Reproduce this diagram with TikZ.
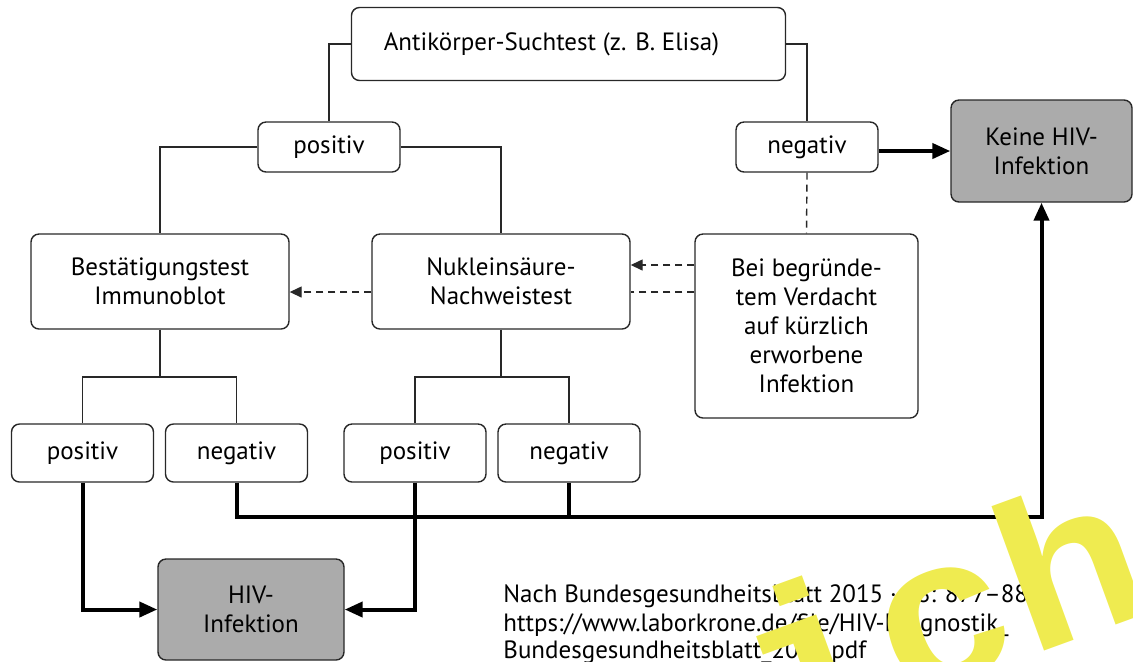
\documentclass[tikz,border=0pt]{standalone}
\usepackage{fontspec}
\setmainfont{PT Sans}
\newfontfamily\wmfont{Liberation Mono}
\usetikzlibrary{arrows.meta}
\definecolor{boxgray}{RGB}{171,171,171}
\definecolor{wmyellow}{RGB}{239,235,80}
\definecolor{linec}{RGB}{40,40,40}
\begin{document}
\begin{tikzpicture}[x=0.5pt,y=-0.5pt,
  every node/.style={font=\fontsize{12.5}{14.5}\selectfont},
  box/.style={draw=linec, line width=0.7pt, rounded corners=4pt, fill=white, align=center, inner sep=0pt},
  graybox/.style={box, fill=boxgray},
  small/.style={minimum width=71pt, minimum height=29pt},
  thin/.style={draw=linec, line width=0.7pt},
  thickline/.style={draw=black, line width=2pt},
  thickarrow/.style={thickline, -{Triangle[length=9pt,width=7.5pt]}},
  dashline/.style={thin, dash pattern=on 3.5pt off 2.5pt},
  dasharrow/.style={dashline, -{Triangle[length=6pt,width=5.5pt]}},
  foot/.style={anchor=base west, inner sep=0pt},
  watermark/.style={text=wmyellow, inner sep=0pt, anchor=base, rotate=20, xscale=1.08, font=\wmfont\bfseries\fontsize{106}{106}\selectfont}
]
\useasboundingbox (0,0) rectangle (1133,661);

% nodes
\node[box, minimum width=217pt, minimum height=36.5pt] (top) at (568.5,44) {Antikörper-Suchtest (z. B. Elisa)\hspace{17pt}};
\node[box, minimum width=71pt, minimum height=25pt] (pos1) at (329,147) {positiv};
\node[box, minimum width=71pt, minimum height=25pt] (neg1) at (807,147) {negativ};
\node[graybox, minimum width=90.5pt, minimum height=51pt] (keine) at (1041.5,151) {Keine HIV-\\Infektion};
\node[box, minimum width=111.5pt, minimum height=92pt] (bei) at (806.5,326) {Bei begründe-\\tem Verdacht\\auf kürzlich\\erworbene\\Infektion};
\node[box, minimum width=129pt, minimum height=47.5pt] (nuk) at (501,281.5) {Nukleinsäure-\\Nachweistest};
\node[box, minimum width=129pt, minimum height=47.5pt] (best) at (160,281.5) {Bestätigungstest\\Immunoblot};
\node[box, small] (p2a) at (82.5,453) {positiv};
\node[box, small] (n2a) at (236.5,453) {negativ};
\node[box, small] (p2b) at (415,453) {positiv};
\node[box, small] (n2b) at (569,453) {negativ};
\node[graybox, minimum width=93pt, minimum height=50.5pt] (hiv) at (251,609.5) {HIV-\\Infektion};

\node[foot] (f1) at (503,602) {Nach Bundesgesundheitsblatt 2015 · 58: 877–886};
\node[foot] (f2) at (503,631) {https://www.laborkrone.de/file/HIV-Diagnostik\_};
\node[foot] (f3) at (503,658) {Bundesgesundheitsblatt\_2015.pdf};

% helper coordinates
\coordinate (split) at (0,377);
\coordinate (bus) at (0,517);
\coordinate (d1) at (0,265);
\coordinate (d2) at (0,292);

% thin connectors
\draw[thin] (top.west) -| (pos1.north);
\draw[thin] (top.east) -| (neg1.north);
\draw[thin] (pos1.west) -| (best.north);
\draw[thin] (pos1.east) -| (nuk.north);
\draw[thin] (best.south) -- (best.south |- split);
\draw[thin] (p2a.north) |- (best.south |- split) -| (n2a.north);
\draw[thin] (nuk.south) -- (nuk.south |- split);
\draw[thin] (p2b.north) |- (nuk.south |- split) -| (n2b.north);

% dashed connectors
\draw[dashline] (neg1.south) -- (bei.north);
\draw[dasharrow] (d1 -| bei.west) -- (d1 -| nuk.east);
\draw[dashline] (d2 -| bei.west) -- (d2 -| nuk.east);
\draw[dasharrow] (d2 -| nuk.west) -- (d2 -| best.east);

% thick connectors
\draw[thickarrow] (keine.west -| neg1.east) -- (keine.west);
\draw[thickarrow] (p2a.south) |- (hiv.west);
\draw[thickarrow] (p2b.south) |- (hiv.east);
\draw[thickarrow] (n2a.south) |- (bus -| keine.south) -- (keine.south);
\draw[thickline] (n2b.south) -- (n2b.south |- bus);

% watermark
\node[watermark] (wm) at (1030,656) {ichi};
\end{tikzpicture}
\end{document}
